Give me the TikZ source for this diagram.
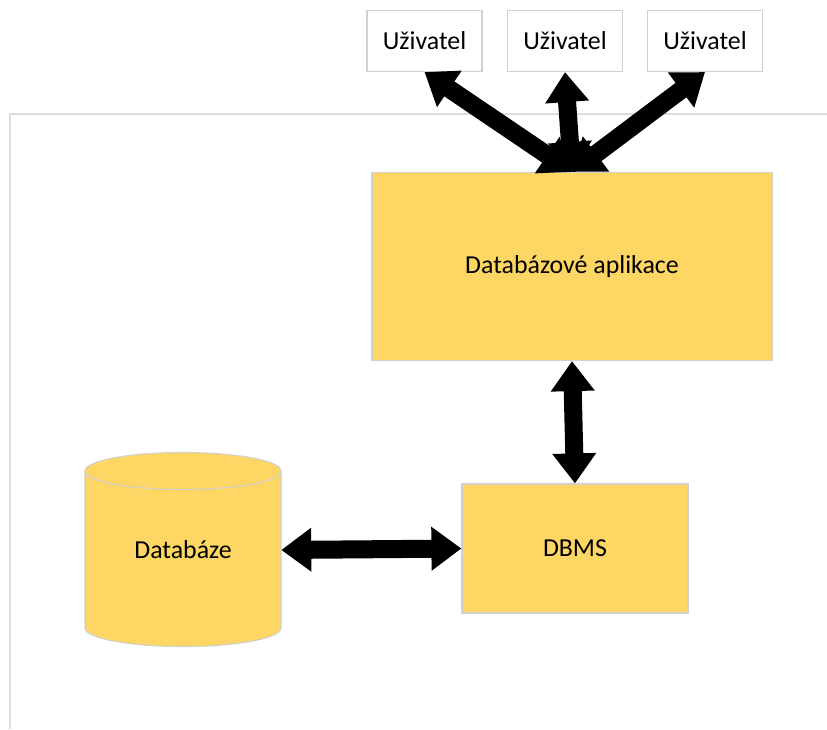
\documentclass[tikz,border=0pt]{standalone}
\usepackage{fontspec}
\setmainfont{Carlito}
\usetikzlibrary{arrows.meta}

\definecolor{boxyellow}{HTML}{FDD663}
\definecolor{boxline}{HTML}{D3D0C8}
\definecolor{frameline}{HTML}{DCDCDC}

\tikzset{
  label font/.style={font=\fontsize{18.4}{22}\selectfont},
  userbox/.style={draw=boxline, line width=0.8pt, fill=white, label font,
    minimum width=2.875cm, minimum height=1.525cm},
  yellowbox/.style={draw=boxline, line width=0.8pt, fill=boxyellow, label font},
  bigarrow/.style={line width=0.45cm,
    {Triangle[length=0.75cm,width=1.05cm]}-{Triangle[length=0.75cm,width=1.05cm]}}
}

\begin{document}
\begin{tikzpicture}[x=0.025cm,y=-0.025cm]
        \useasboundingbox (0,0) rectangle (827,729);

        % frame
        \draw[frameline, line width=2.1pt] (10,729) -- (10,114) -- (827,114);

        % users
        \node[userbox] (u1) at (424.5,41) {Uživatel};
        \node[userbox] (u2) at (565,41) {Uživatel};
        \node[userbox] (u3) at (705,41) {Uživatel};

        % application and dbms
        \node[yellowbox, minimum width=10cm, minimum height=4.7cm] (app) at (572,266.5) {Databázové aplikace};
        \node[yellowbox, minimum width=5.65cm, minimum height=3.225cm] (dbms) at (575,548.5) {DBMS};

        % database
        \draw[draw=boxline, line width=0.8pt, fill=boxyellow]
          (85,471) -- (85,628) arc[start angle=180, end angle=360, x radius=2.45cm, y radius=0.4625cm]
          -- (281,471) arc[start angle=0, end angle=180, x radius=2.45cm, y radius=0.4625cm] -- cycle;
        \draw[boxline, line width=0.8pt]
          (85,471) arc[start angle=180, end angle=360, x radius=2.45cm, y radius=0.4625cm];
        \node[label font, minimum width=4.9cm, minimum height=4.85cm] (db) at (183,550) {Databáze};

        % arrows
        \draw[bigarrow] (app.north) -- (u1.south);
        \draw[bigarrow] (app.north) -- (u2.south);
        \draw[bigarrow] (app.north) -- (u3.south);
        \draw[bigarrow] (app.south) -- (dbms.north);
        \draw[bigarrow] (db.east) -- (dbms.west);
    \end{tikzpicture}
\end{document}
